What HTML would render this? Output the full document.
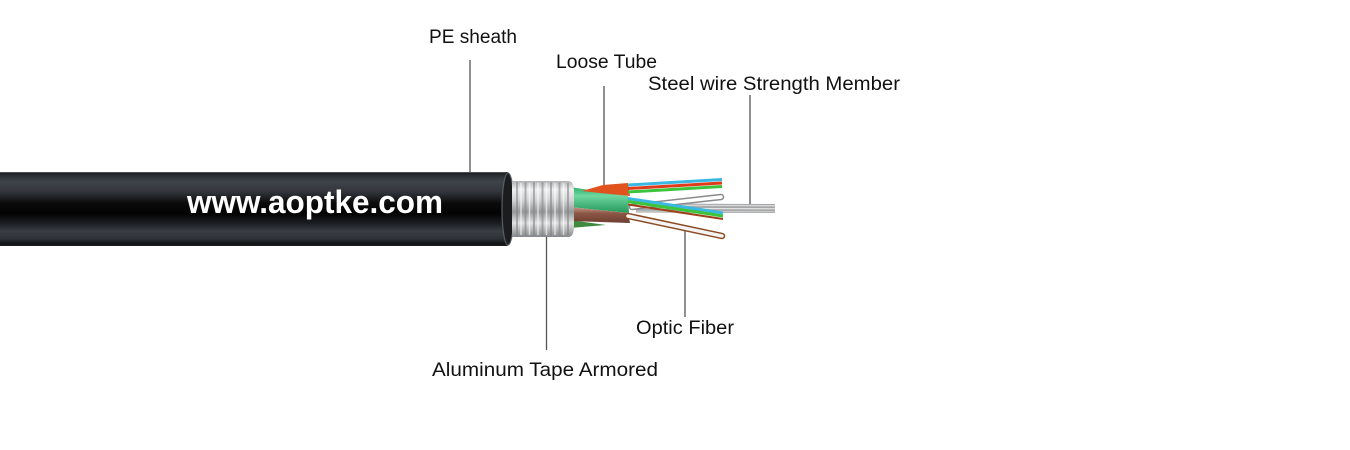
<!DOCTYPE html>
<html>
<head>
<meta charset="utf-8">
<style>
  html, body { margin:0; padding:0; background:#ffffff; }
  body { width:1350px; height:450px; overflow:hidden; }
  svg { display:block; }
</style>
</head>
<body>
<svg width="1350" height="450" viewBox="0 0 1350 450" xmlns="http://www.w3.org/2000/svg">
  <defs>
    <linearGradient id="sheath" x1="0" y1="172" x2="0" y2="246" gradientUnits="userSpaceOnUse">
      <stop offset="0" stop-color="#15171a"/>
      <stop offset="0.05" stop-color="#2c3035"/>
      <stop offset="0.13" stop-color="#3e434a"/>
      <stop offset="0.26" stop-color="#33373d"/>
      <stop offset="0.42" stop-color="#0b0b0c"/>
      <stop offset="0.56" stop-color="#030303"/>
      <stop offset="0.70" stop-color="#1c1f23"/>
      <stop offset="0.80" stop-color="#3a3e44"/>
      <stop offset="0.90" stop-color="#2f3338"/>
      <stop offset="0.97" stop-color="#101113"/>
      <stop offset="1" stop-color="#1e2023"/>
    </linearGradient>
    <linearGradient id="armor" x1="0" y1="181" x2="0" y2="237" gradientUnits="userSpaceOnUse">
      <stop offset="0" stop-color="#b0b2b4"/>
      <stop offset="0.15" stop-color="#eeeeee"/>
      <stop offset="0.35" stop-color="#d0d2d4"/>
      <stop offset="0.55" stop-color="#96989a"/>
      <stop offset="0.75" stop-color="#e2e2e2"/>
      <stop offset="1" stop-color="#85878a"/>
    </linearGradient>
    <linearGradient id="greenT" x1="0" y1="187" x2="0" y2="212" gradientUnits="userSpaceOnUse">
      <stop offset="0" stop-color="#2fae6c"/>
      <stop offset="0.35" stop-color="#6fd8a0"/>
      <stop offset="1" stop-color="#2a9a5e"/>
    </linearGradient>
    <linearGradient id="brownT" x1="0" y1="207" x2="0" y2="223" gradientUnits="userSpaceOnUse">
      <stop offset="0" stop-color="#c79a8a"/>
      <stop offset="0.4" stop-color="#8c5646"/>
      <stop offset="1" stop-color="#6e3e30"/>
    </linearGradient>
  </defs>

  <!-- leader lines -->
  <g stroke="#555" stroke-width="1.3" fill="none">
    <line x1="470" y1="60" x2="470" y2="173"/>
    <line x1="604" y1="86" x2="604" y2="186"/>
    <line x1="750" y1="95" x2="750" y2="205"/>
    <line x1="546.5" y1="228" x2="546.5" y2="350"/>
    <line x1="685" y1="228" x2="685" y2="317"/>
  </g>

  <!-- cable sheath -->
  <path d="M0,172 L507,172 A7,37 0 0 1 507,246 L0,246 Z" fill="url(#sheath)"/>
  <line x1="0" y1="172.5" x2="506" y2="172.5" stroke="#8a8d90" stroke-width="0.8" opacity="0.6"/>
  <ellipse cx="508" cy="209" rx="6" ry="36" fill="#1b1c1e" stroke="#5a5d61" stroke-width="1.2"/>

  <!-- tubes emerging -->
  <polygon points="570,220 606,225 570,228" fill="#3f8a3f"/>
  <polygon points="570,207 628,213 630,223 570,221" fill="url(#brownT)"/>
  <polygon points="570,187 628,196 629,213 570,207" fill="url(#greenT)"/>
  <polygon points="582,191 603,185 628,183 630,196 600,193" fill="#e0531f"/>

  <!-- steel wire -->
  <line x1="636" y1="208" x2="775" y2="208.5" stroke="#a4a6a8" stroke-width="9"/>
  <line x1="636" y1="205.2" x2="775" y2="205.7" stroke="#d8d8d8" stroke-width="1.4"/>
  <line x1="636" y1="208.3" x2="775" y2="208.8" stroke="#e4e4e4" stroke-width="1.2"/>
  <line x1="636" y1="211.2" x2="775" y2="211.7" stroke="#cacaca" stroke-width="1.2"/>

  <!-- upper silver fiber -->
  <line x1="632" y1="207" x2="721" y2="197" stroke="#8a8a8a" stroke-width="6.5" stroke-linecap="round"/>
  <line x1="632" y1="207" x2="721" y2="197" stroke="#ffffff" stroke-width="3.5" stroke-linecap="round"/>

  <!-- top colored fibers -->
  <line x1="628" y1="185" x2="722" y2="179.5" stroke="#3ab8e2" stroke-width="3"/>
  <line x1="628" y1="188.5" x2="722" y2="183" stroke="#e03a1a" stroke-width="3"/>
  <line x1="628" y1="192" x2="722" y2="186.5" stroke="#3cc43c" stroke-width="3"/>

  <!-- middle colored fibers -->
  <line x1="628" y1="198.5" x2="723" y2="213" stroke="#3ab8e2" stroke-width="3"/>
  <line x1="628" y1="201.5" x2="723" y2="216" stroke="#3cc43c" stroke-width="3"/>
  <line x1="628" y1="204.5" x2="723" y2="219" stroke="#a0401a" stroke-width="2"/>

  <!-- lower fiber -->
  <line x1="628" y1="216" x2="722" y2="236" stroke="#8b4a20" stroke-width="6.5" stroke-linecap="round"/>
  <line x1="628" y1="216" x2="722" y2="236" stroke="#f4f4f4" stroke-width="3.5" stroke-linecap="round"/>

  <!-- aluminum armor -->
  <path d="M512,181 L568,181 Q574,181 574,192 L574,226 Q574,237 568,237 L512,237 Z" fill="url(#armor)"/>
  <g stroke="#7e8082" stroke-width="2" opacity="0.55">
    <line x1="517" y1="182" x2="517" y2="236"/>
    <line x1="525.5" y1="182" x2="525.5" y2="236"/>
    <line x1="534" y1="182" x2="534" y2="236"/>
    <line x1="542.5" y1="182" x2="542.5" y2="236"/>
    <line x1="551" y1="182" x2="551" y2="236"/>
    <line x1="559.5" y1="182" x2="559.5" y2="236"/>
    <line x1="568" y1="183" x2="568" y2="235"/>
  </g>
  <g stroke="#ffffff" stroke-width="1.5" opacity="0.6">
    <line x1="521" y1="183" x2="521" y2="235"/>
    <line x1="529.5" y1="183" x2="529.5" y2="235"/>
    <line x1="538" y1="183" x2="538" y2="235"/>
    <line x1="546.5" y1="183" x2="546.5" y2="235"/>
    <line x1="555" y1="183" x2="555" y2="235"/>
    <line x1="563.5" y1="183" x2="563.5" y2="235"/>
  </g>

  <!-- watermark -->
  <text x="187" y="213" font-family="Liberation Sans, sans-serif" font-weight="bold" font-size="32" fill="#ffffff" textLength="256" lengthAdjust="spacingAndGlyphs">www.aoptke.com</text>

  <!-- labels -->
  <g font-family="Liberation Sans, sans-serif" font-size="19" fill="#111111">
    <text x="429" y="43" textLength="88" lengthAdjust="spacingAndGlyphs">PE sheath</text>
    <text x="556" y="68" textLength="101" lengthAdjust="spacingAndGlyphs">Loose Tube</text>
    <text x="648" y="90" textLength="252" lengthAdjust="spacingAndGlyphs">Steel wire Strength Member</text>
    <text x="636" y="334" textLength="98" lengthAdjust="spacingAndGlyphs">Optic Fiber</text>
    <text x="432" y="376" textLength="226" lengthAdjust="spacingAndGlyphs">Aluminum Tape Armored</text>
  </g>
</svg>
</body>
</html>
